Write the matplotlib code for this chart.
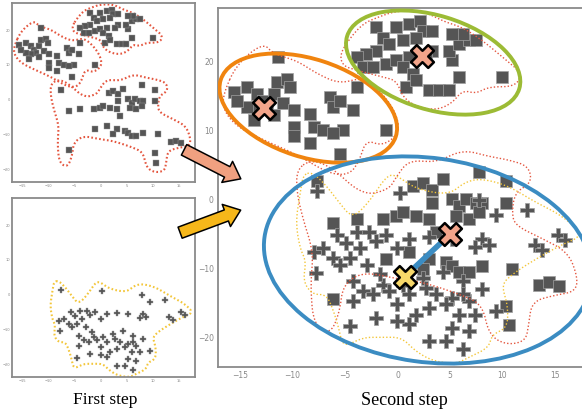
import numpy as np
import matplotlib
matplotlib.use("Agg")
import matplotlib.pyplot as plt
from matplotlib.patches import Ellipse, FancyArrowPatch
from matplotlib.transforms import ScaledTranslation

# squares (three groups)
sq_x = [-15.6, -14.3, -13.4, -12.8, -11.8, -11.5, -10.5, -10.2, -10.9, -12.4, -13.4, -14.3, -15.3,
        -13.7, -11.8, -9.9, -8.3, -8.0, -9.9, -9.9, -8.3, -7.1, -6.4, -6.1, -5.5, -4.2, -3.9, -5.2,
        -6.1, -5.5, -1.1, -11.4,
        -2.0, -1.4, -0.1, 1.1, 2.1, 2.4, 3.3, 1.8, 0.5, -0.8, -2.0, -3.0, -3.9, -3.3, -2.3, -1.1,
        -0.1, 1.1, 0.5, 1.5, 0.8, 1.8, 3.0, 4.0, 4.9, 5.9, 5.2, 4.9, 5.9, 6.8, 7.5, 6.2, 5.2, 10.0,
        3.3, 2.7,
        -7.7, -6.1, -3.9, -1.4, -0.1, 0.5, 1.8, 3.0, 1.5, 2.4, 3.3, 4.3, 3.3, 5.2, 5.9, 6.5, 7.5,
        8.1, 5.6, 6.8, 7.8, 7.8, 10.3, 10.3, 3.7, -1.1, 1.1, 3.0, 2.4, 4.6, 5.2, 5.9, 6.8, 8.1,
        10.9, 13.5, 14.4, 15.4, 10.3, 10.6, -6.1]
sq_y = [15.7, 16.4, 15.4, 14.4, 15.4, 17.1, 17.5, 16.4, 14.0, 13.5, 13.0, 13.5, 14.4,
        11.6, 12.3, 13.0, 12.5, 10.6, 10.6, 9.2, 8.2, 10.1, 14.9, 13.5, 14.4, 13.0, 16.4, 10.1,
        9.7, 6.6, 10.1, 20.7,
        25.0, 23.5, 25.0, 25.5, 25.9, 24.5, 24.5, 23.5, 23.1, 22.6, 21.6, 21.1, 20.7, 19.2, 19.2,
        19.7, 20.2, 20.7, 19.2, 18.3, 16.4, 17.3, 15.9, 15.9, 15.9, 17.8, 20.2, 21.6, 22.6, 23.1,
        23.1, 24.0, 24.0, 17.8, 21.6, 20.7,
        2.8, -3.3, -2.8, -2.8, -2.3, -1.8, -2.3, -2.8, 2.0, 2.5, 1.5, 3.0, -0.4, 0.1, -0.9, 0.1,
        -0.4, -0.4, -2.3, -2.8, -1.8, 4.1, 2.8, -0.4, -4.7, -8.5, -7.6, -8.5, -10.0, -9.0, -9.5,
        -10.4, -10.4, -9.5, -10.0, -12.3, -11.9, -12.5, -15.4, -18.1, -14.4]

# pluses
pl_x = [-7.7, 0.2, 7.8, 9.4, 12.3, -5.8, -3.9, -4.9, -3.6, -2.0, -1.1, 0.0, 1.1, 3.0, 5.2, 8.1,
        8.7, 7.4, -8.0, -7.1, -6.1, -5.5, -7.8, -4.2, -3.3, -4.2, -2.3, -1.4, -0.8, 0.0, 1.1, 2.4,
        4.3, 3.0, 1.1, 0.0, -2.0, -4.5, 3.0, 4.6, 6.2, 5.2, 6.8, 5.9, 7.4, 9.4, 8.1, 6.2, 5.2, 3.7,
        6.8, 13.1, 13.8, 15.3, 16.0, -2.7, -4.5, -2.9, -1.7, 0.5, 2.7, 6.2, 4.6, 1.8]
pl_y = [1.3, 1.0, 0.0, -2.2, -1.5, -5.1, -4.6, -6.2, -7.0, -6.0, -5.1, -7.0, -5.6, -5.3, -5.6,
        -5.6, -6.5, -6.8, -7.5, -7.0, -8.4, -9.4, -10.6, -11.8, -13.2, -14.7, -13.7, -12.3, -13.2,
        -15.1, -13.7, -11.3, -10.4, -15.6, -18.0, -17.5, -17.1, -18.3, -20.4, -20.4, -21.6, -18.5,
        -19.0, -16.6, -16.6, -16.1, -12.9, -11.8, -14.2, -13.7, -14.7, -6.5, -7.2, -5.1, -5.8,
        -4.6, -8.4, -9.4, -10.8, -12.3, -12.8, -13.7, -15.1, -16.6]

# centroids
sq_cx = [-12.7, 2.3, 5.0]
sq_cy = [13.3, 20.8, -5.0]
pl_cx = [0.7]
pl_cy = [-11.1]

# hand drawn outlines
red_1 = [(-16.6, 15.4), (-15.3, 19.7), (-12.8, 22.8), (-11.8, 21.1), (-9.6, 20.2), (-7.7, 18.3),
         (-5.5, 16.8), (-3.3, 17.8), (-1.4, 15.4), (-0.1, 12.5), (0.2, 9.7), (-1.4, 7.8),
         (-3.0, 8.7), (-3.6, 5.8), (-4.5, 3.7), (-6.4, 3.7), (-9.6, 6.6), (-12.8, 8.7),
         (-15.3, 10.6), (-16.6, 13.0)]
red_2 = [(-5.5, 21.1), (-4.5, 23.5), (-3.3, 25.5), (-2.0, 26.4), (-0.1, 27.4), (2.4, 27.4),
         (4.3, 25.9), (6.2, 25.0), (8.1, 23.1), (10.0, 20.7), (11.9, 18.3), (11.2, 16.4),
         (8.7, 16.4), (7.5, 15.4), (6.2, 15.9), (5.2, 14.0), (3.7, 13.0), (1.8, 13.5), (0.5, 14.9),
         (-0.1, 17.3), (-1.4, 17.8), (-2.7, 18.3), (-3.9, 18.8), (-5.2, 19.4)]
red_3 = [(-9.6, 4.4), (-8.3, 5.8), (-6.4, 4.9), (-3.3, 0.6), (-0.8, 1.5), (-0.1, 3.4), (1.1, 5.8),
         (3.7, 5.4), (6.2, 7.3), (8.7, 6.3), (10.6, 5.8), (12.5, 4.9), (12.8, 2.5), (11.2, 1.1),
         (10.9, -1.8), (11.2, -3.7), (13.8, -5.6), (16.3, -7.6), (17.2, -11.4), (16.9, -13.3),
         (15.0, -13.8), (12.8, -14.7), (12.5, -18.1), (12.2, -20.5), (10.3, -21.0), (8.7, -19.5),
         (8.1, -15.2), (6.2, -13.8), (2.4, -11.9), (-0.1, -11.4), (-3.3, -10.4), (-5.2, -12.3),
         (-5.5, -16.2), (-6.4, -19.5), (-8.0, -18.1), (-8.3, -12.3), (-8.0, -7.6), (-9.0, -2.8),
         (-9.6, 1.1)]
yel_1 = [(-9.0, 3.7), (-8.1, 4.0), (-6.8, 2.1), (-5.6, -0.3), (-4.3, -2.7), (-2.7, -0.3),
         (-1.1, 3.4), (-0.2, 3.7), (1.7, 1.6), (4.9, 0.7), (6.4, 2.6), (8.0, 3.1), (10.5, 2.1),
         (13.1, -0.3), (15.6, -2.2), (17.8, -5.1), (15.6, -6.5), (12.8, -8.9), (10.9, -10.8),
         (9.9, -12.3), (10.5, -15.1), (10.5, -18.5), (9.0, -19.5), (8.7, -21.4), (6.8, -22.8),
         (5.5, -23.8), (3.3, -23.3), (1.7, -21.9), (0.4, -19.9), (-1.5, -19.9), (-3.3, -19.9),
         (-5.2, -21.4), (-5.6, -18.5), (-6.2, -15.6), (-6.8, -13.7), (-8.1, -13.7), (-9.0, -11.8),
         (-8.7, -8.9), (-9.3, -7.0), (-9.7, -3.2), (-9.3, 0.7)]

# cluster ellipses: center (data), semi axes (px), angle
ell_center = [(-8.5, 13.3), (3.4, 19.9), (2.9, -8.7)]
ell_axes = [(92, 49), (90, 47), (165, 102)]
ell_angle = [-18, -17, -8]
ell_color = ['#f0840f', '#9cbb35', '#3b8cc2']

ticks_x = [-15, -10, -5, 0, 5, 10, 15]
ticks_y = [-20, -10, 0, 10, 20]

SQ = '#555555'
RED = '#e4563f'
YEL = '#f3c63a'


def smooth(pts, n=4):
    p = np.array(pts, dtype=float)
    for _ in range(n):
        q = np.roll(p, -1, axis=0)
        new = np.empty((2 * len(p), 2))
        new[0::2] = 0.75 * p + 0.25 * q
        new[1::2] = 0.25 * p + 0.75 * q
        p = new
    return np.vstack([p, p[:1]])


def style(ax, fs, pad):
    ax.set_xticks(ticks_x)
    ax.set_yticks(ticks_y)
    ax.tick_params(length=0, labelsize=fs, colors='#888888', pad=pad)
    for s in ax.spines.values():
        s.set_color('#8a8a8a')
        s.set_linewidth(1.3)


fig = plt.figure(figsize=(5.82, 4.15), dpi=100)

ax1 = fig.add_axes([0.0206, 0.5614, 0.3144, 0.4313])
ax2 = fig.add_axes([0.0206, 0.0916, 0.3144, 0.4313])
ax3 = fig.add_axes([0.3746, 0.1157, 0.6564, 0.865])

for ax in (ax1, ax2):
    ax.set_xlim(-17, 18)
    ax.set_ylim(-23.7, 27.8)
    style(ax, 2.6, 1.5)

ax1.scatter(sq_x, sq_y, marker='s', s=19, c=SQ, edgecolors='#9a9a9a', linewidths=0.3, zorder=3)
for c in (red_1, red_2, red_3):
    p = smooth(c)
    ax1.plot(p[:, 0], p[:, 1], color=RED, lw=1.5, ls=(0, (0.8, 1.1)), zorder=2)

ax2.scatter(pl_x, pl_y, marker='P', s=22, c=SQ, edgecolors='#9a9a9a', linewidths=0.3, zorder=3)
p = smooth(yel_1)
ax2.plot(p[:, 0], p[:, 1], color=YEL, lw=1.5, ls=(0, (0.8, 1.1)), zorder=2)

ax3.set_xlim(-17.1, 19.3)
ax3.set_ylim(-24.2, 27.8)
style(ax3, 5.5, 3)
ax3.spines['right'].set_visible(False)

ax3.scatter(sq_x, sq_y, marker='s', s=78, c=SQ, edgecolors='#a0a0a0', linewidths=0.5, zorder=3)
ax3.scatter(pl_x, pl_y, marker='P', s=105, c=SQ, edgecolors='#a0a0a0', linewidths=0.5, zorder=3)
for c in (red_1, red_2, red_3):
    p = smooth(c)
    ax3.plot(p[:, 0], p[:, 1], color=RED, lw=1.0, ls=(0, (1, 1.5)), zorder=4)
p = smooth(yel_1)
ax3.plot(p[:, 0], p[:, 1], color=YEL, lw=1.0, ls=(0, (1, 1.5)), zorder=4)

for (cx, cy), (a, b), ang, col in zip(ell_center, ell_axes, ell_angle, ell_color):
    tr = fig.dpi_scale_trans + ScaledTranslation(cx, cy, ax3.transData)
    ax3.add_patch(Ellipse((0, 0), 2 * a / 100, 2 * b / 100, angle=ang, transform=tr,
                          fill=False, ec=col, lw=2.8, zorder=5))

ax3.plot([pl_cx[0], sq_cx[2]], [pl_cy[0], sq_cy[2]], color='#3b8cc2', lw=4, zorder=6,
         solid_capstyle='butt')
ax3.scatter(sq_cx, sq_cy, marker='X', s=270, c='#f2a48a', edgecolors='black', linewidths=1.8, zorder=7)
ax3.scatter(pl_cx, pl_cy, marker='X', s=270, c='#f7d86a', edgecolors='black', linewidths=1.8, zorder=7)

# arrows between panels
arr1 = FancyArrowPatch((0.312, 0.642), (0.418, 0.566), transform=fig.transFigure,
                       arrowstyle='simple,head_length=1.1,head_width=1.7,tail_width=0.85',
                       mutation_scale=10, fc='#f0a080', ec='black', lw=1.1, zorder=20)
arr2 = FancyArrowPatch((0.305, 0.437), (0.418, 0.496), transform=fig.transFigure,
                       arrowstyle='simple,head_length=1.1,head_width=1.7,tail_width=0.85',
                       mutation_scale=10, fc='#f6b71a', ec='black', lw=1.1, zorder=20)
fig.patches.extend([arr1, arr2])

fig.text(0.18, 0.035, 'First step', ha='center', va='center', fontsize=12.5,
         family='Liberation Serif')
fig.text(0.695, 0.035, 'Second step', ha='center', va='center', fontsize=13,
         family='Liberation Serif')

fig.savefig('out.png', dpi=100)
